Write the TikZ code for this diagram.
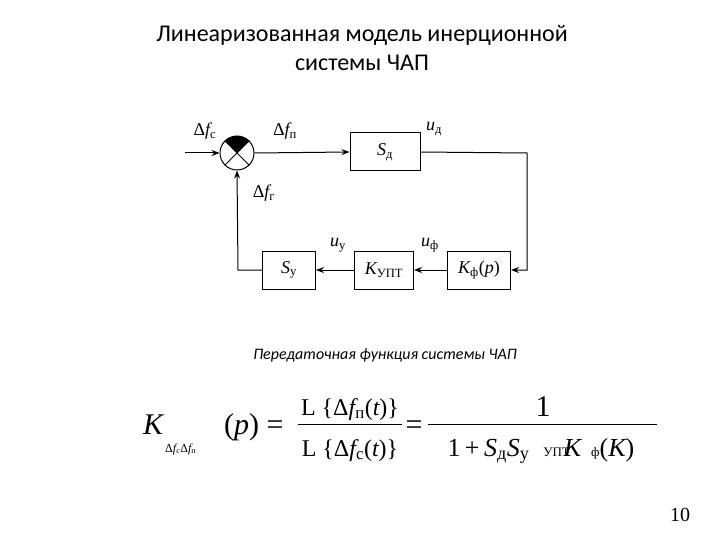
\documentclass[tikz,border=0pt]{standalone}
\usepackage{fontspec}
\setmainfont{Liberation Serif}
\newfontfamily\carl{Carlito}
\usetikzlibrary{arrows.meta}
\begin{document}
\begin{tikzpicture}[x=1pt,y=-1pt,
  blk/.style={draw,line width=1pt,minimum width=#1,minimum height=38pt,inner sep=0pt,font=\fontsize{18}{18}\selectfont},
  wire/.style={line width=1pt},
  arr/.style={wire,-{Stealth[length=8pt,width=6pt]}},
  lbl/.style={font=\fontsize{18}{18}\selectfont\itshape,inner sep=0pt},
  fm/.style={font=\fontsize{30}{30}\selectfont,inner sep=0pt,anchor=base}]
\useasboundingbox (0,0) rectangle (720,540);
\node[font=\carl\fontsize{24}{29}\selectfont,align=center] (title) at (362,48) {Линеаризованная модель инерционной\\системы ЧАП};
% sum
\coordinate (c) at (237,153);
\fill (c) -- ++(-45:17) arc (-45:-135:17) -- cycle;
\node[draw,circle,line width=1pt,minimum size=34pt,inner sep=0pt] (sum) at (c) {};
\draw[wire] (sum.north west) -- (sum.south east) (sum.north east) -- (sum.south west);
\node[blk=70pt] (sd) at (385,152) {\itshape S\textsubscript{\upshape д}};
\node[blk=63pt] (kf) at (479,270) {\itshape K\textsubscript{\upshape ф}\upshape(\itshape p\upshape)};
\node[blk=59pt] (kupt) at (384,270) {\itshape K\textsubscript{\upshape УПТ}};
\node[blk=53pt] (sy) at (289,270) {\itshape S\textsubscript{\upshape у}};
\coordinate (in) at (185,153);
\coordinate (r1) at (527,153);
\coordinate (r2) at (527,270);
\coordinate (l1) at (238,270);
\draw[arr] (in) -- (sum.west);
\draw[arr] (sum.east) -- (sd.west);
\draw[arr] (sd.east) -- (r1) -- (r2) -- (kf.east);
\draw[arr] (kf.west) -- (kupt.east);
\draw[arr] (kupt.west) -- (sy.east);
\draw[arr] (sy.west) -- (l1) -- (sum.south);
\node[lbl] (l1t) at (205,131) {\upshape Δ\itshape f\textsubscript{\upshape с}};
\node[lbl] (l2t) at (285,131) {\upshape Δ\itshape f\textsubscript{\upshape п}};
\node[lbl] (l3t) at (434,129) {u\textsubscript{\upshape д}};
\node[lbl] (l4t) at (264,193) {\upshape Δ\itshape f\textsubscript{\upshape г}};
\node[lbl] (l5t) at (338,245) {u\textsubscript{\upshape у}};
\node[lbl] (l6t) at (430,245) {u\textsubscript{\upshape ф}};
\node[font=\carl\itshape\fontsize{16}{16}\selectfont] (sub) at (385,355) {Передаточная функция системы ЧАП};
% formula
\node[fm,anchor=base west] (K) at (143,434) {\itshape K};
\node[font=\fontsize{12}{12}\selectfont,anchor=base west,inner sep=0pt] (ks) at (165,452) {Δ\itshape f\textsubscript{\upshape с}\upshape Δ\itshape f\textsubscript{\upshape п}};
\node[fm,anchor=base west] (pe) at (224,434) {(\itshape p\upshape) =};
\draw[line width=1pt] (298,424) -- (402,424);
\node[fm,font=\fontsize{24}{24}\selectfont] (n1) at (350,415) {L \{Δ\itshape f\textsubscript{\upshape п}\upshape(\itshape t\upshape)\}};
\node[fm,font=\fontsize{24}{24}\selectfont] (d1) at (350,456) {L \{Δ\itshape f\textsubscript{\upshape с}\upshape(\itshape t\upshape)\}};
\node[fm] (eq2) at (414,434) {=};
\draw[line width=1pt] (428,424) -- (657,424);
\node[fm] (n2) at (543,416) {1};
\node[fm,font=\fontsize{26}{26}\selectfont] (d2) at (541,456) {1\,+\,\itshape S\textsubscript{\upshape д}S\textsubscript{\upshape у}\upshape\hspace{14pt}\fontsize{13}{13}\selectfont УПТ\fontsize{26}{26}\selectfont\kern-6pt\itshape K\upshape\hspace{10pt}\fontsize{13}{13}\selectfont ф\fontsize{26}{26}\selectfont(\itshape K\upshape)};
\node[font=\fontsize{20}{20}\selectfont] (pg) at (680,515) {10};
\end{tikzpicture}
\end{document}
